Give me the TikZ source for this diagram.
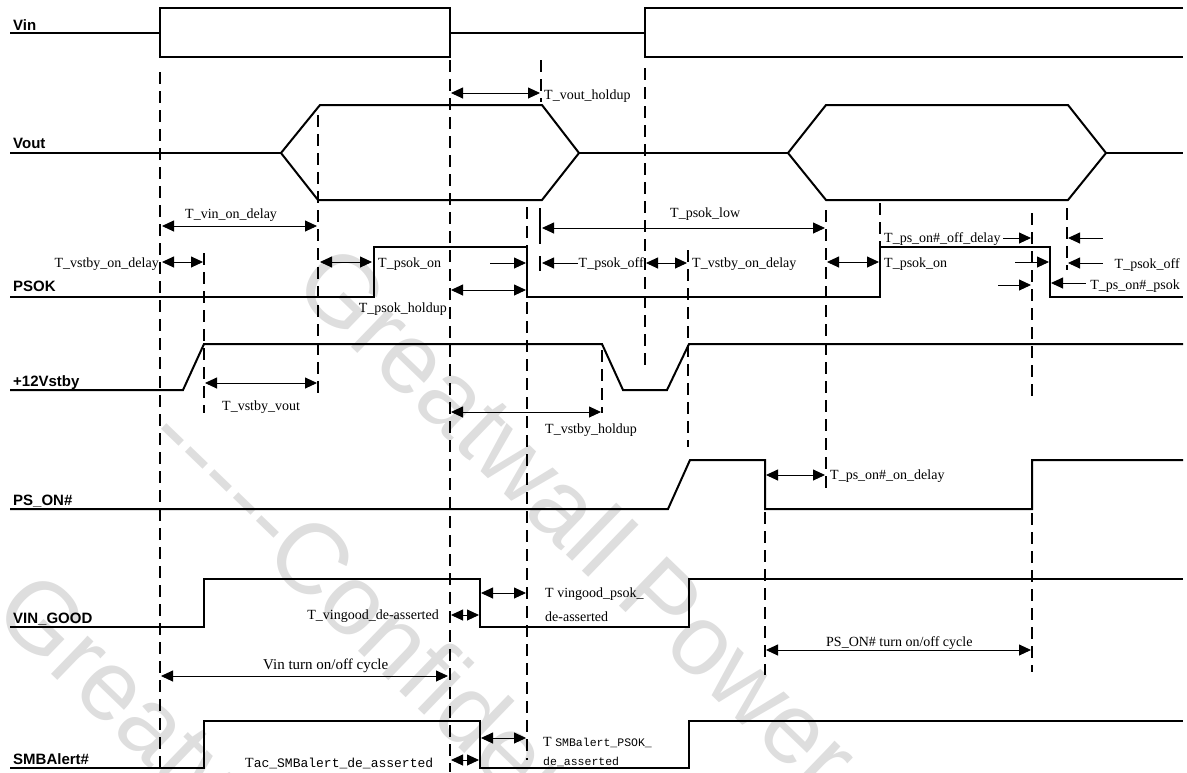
\documentclass[tikz,border=0pt]{standalone}
\usepackage{fontspec}
\setmainfont{Liberation Serif}
\newfontfamily\lblfont{Liberation Sans}
\newfontfamily\wmfont{Liberation Sans}
\newfontfamily\smfont{Liberation Mono}
\usetikzlibrary{arrows.meta}
\begin{document}
\begin{tikzpicture}[x=1pt,y=-1pt,
  sig/.style={line width=2pt, line join=miter},
  vdash/.style={line width=1.8pt, dash pattern=on 12pt off 7pt},
  tip/.tip={Triangle[length=12pt,width=11pt]},
  dim/.style={line width=0.9pt, tip-tip},
  rdim/.style={line width=0.9pt, -tip},
  ldim/.style={line width=0.9pt, tip-},
  sname/.style={font=\lblfont\bfseries\fontsize{15}{16}\selectfont, anchor=base west, inner sep=0pt},
  tl/.style={font=\fontsize{14}{15}\selectfont, inner sep=0pt, anchor=base west},
  tr/.style={tl, anchor=base east},
  wm/.style={text=black!13, font=\wmfont\fontsize{100}{100}\selectfont, rotate=-44, anchor=base west, inner sep=0pt}
]
\useasboundingbox (0,0) rectangle (1187,772);
% watermark
\node[wm] (wm1) at (290,288) {Greatwall Power};
\node[wm] (wm2) at (142,442) {-----Confidential};
\node[wm] (wm3) at (-10,615) {Greatwall Power};

% signal names
\node[sname] (nVin) at (13,30) {Vin};
\node[sname] (nVout) at (13,148) {Vout};
\node[sname] (nPSOK) at (13,291) {PSOK};
\node[sname] (nVsb) at (13,386) {+12Vstby};
\node[sname] (nPSON) at (13,505) {PS\_ON\#};
\node[sname] (nVG) at (13,623) {VIN\_GOOD};
\node[sname] (nSMB) at (13,764) {SMBAlert\#};

% signals
\draw[sig] (10,33) -- (160,33);
\draw[sig] (160,8) -- (450,8) -- (450,57) -- (160,57) -- cycle;
\draw[sig] (450,33) -- (645,33);
\draw[sig] (1183,8) -- (645,8) -- (645,57) -- (1183,57);

\draw[sig] (10,153) -- (281,153);
\draw[sig] (281,153) -- (320,105) -- (542,105) -- (579,153) -- (542,200) -- (318,200) -- cycle;
\draw[sig] (579,153) -- (788,153);
\draw[sig] (788,153) -- (826,105) -- (1068,105) -- (1106,153) -- (1068,200) -- (826,200) -- cycle;
\draw[sig] (1106,153) -- (1183,153);

\draw[sig] (10,297) -- (374,297) -- (374,247) -- (527,247) -- (527,297) -- (880,297) -- (880,247) -- (1050,247) -- (1050,297) -- (1183,297);
\draw[sig] (10,390) -- (183,390) -- (204,344) -- (602,344) -- (623,390) -- (667,390) -- (689,344) -- (1183,344);
\draw[sig] (10,509) -- (668,509) -- (690,460) -- (765,460) -- (765,509) -- (1032,509) -- (1032,460) -- (1183,460);
\draw[sig] (10,627) -- (204,627) -- (204,579) -- (480,579) -- (480,627) -- (689,627) -- (689,579) -- (1183,579);
\draw[sig] (10,768) -- (204,768) -- (204,721) -- (480,721) -- (480,768) -- (689,768) -- (689,721) -- (1183,721);

% dashed guide lines
\draw[vdash] (160,72) -- (160,772);
\draw[vdash] (318,115) -- (318,397);
\draw[vdash] (204,253) -- (204,413);
\draw[vdash] (450,60) -- (450,772);
\draw[vdash] (527,207) -- (527,760);
\draw[vdash] (541,60) -- (541,102);
\draw[line width=1.6pt] (540,208) -- (540,244) (540,256) -- (540,271);
\draw[vdash] (602,350) -- (602,413);
\draw[vdash] (645,68) -- (645,367);
\draw[vdash] (688,250) -- (688,447);
\draw[vdash] (765,512) -- (765,675);
\draw[vdash] (826,210) -- (826,493);
\draw[vdash] (880,203) -- (880,247);
\draw[vdash] (1032,213) -- (1032,397);
\draw[vdash] (1032,513) -- (1032,672);
\draw[vdash] (1067,208) -- (1067,270);

% dimension arrows
\draw[dim] (162,226) -- (317,226);
\draw[dim] (451,93) -- (540,93);
\draw[dim] (542,228) -- (825,228);
\draw[dim] (162,262) -- (203,262);
\draw[dim] (320,262) -- (372,262);
\draw[rdim] (490,263) -- (526,263);
\draw[dim] (451,290) -- (526,290);
\draw[ldim] (542,263) -- (578,263);
\draw[dim] (646,263) -- (687,263);
\draw[dim] (205,383) -- (317,383);
\draw[dim] (451,412) -- (601,412);
\draw[dim] (766,475) -- (825,475);
\draw[dim] (827,262) -- (879,262);
\draw[rdim] (1003,238) -- (1031,238);
\draw[ldim] (1068,238) -- (1103,238);
\draw[rdim] (1015,262) -- (1049,262);
\draw[ldim] (1068,263) -- (1103,263);
\draw[rdim] (998,285) -- (1031,285);
\draw[ldim] (1051,283) -- (1086,283);
\draw[dim] (451,615) -- (479,615);
\draw[dim] (481,593) -- (526,593);
\draw[dim] (161,676) -- (448,676);
\draw[dim] (766,650) -- (1031,650);
\draw[dim] (451,760) -- (479,760);
\draw[dim] (481,738) -- (526,738);

% labels
\node[tl] (l1) at (185,218) {T\_vin\_on\_delay};
\node[tl] (l2) at (544,99) {T\_vout\_holdup};
\node[tl] (l3) at (670,217) {T\_psok\_low};
\node[tr] (l4) at (159,267) {T\_vstby\_on\_delay};
\node[tl] (l5) at (378,267) {T\_psok\_on};
\node[tr] (l6) at (447,312) {T\_psok\_holdup};
\node[tr] (l7) at (644,267) {T\_psok\_off};
\node[tl] (l8) at (692,267) {T\_vstby\_on\_delay};
\node[tl] (l9) at (884,267) {T\_psok\_on};
\node[tl] (l10) at (884,242) {T\_ps\_on\#\_off\_delay};
\node[tr] (l11) at (1180,268) {T\_psok\_off};
\node[tr] (l12) at (1180,289) {T\_ps\_on\#\_psok};
\node[tl] (l13) at (222,410) {T\_vstby\_vout};
\node[tl] (l14) at (545,433) {T\_vstby\_holdup};
\node[tl] (l15) at (830,479) {T\_ps\_on\#\_on\_delay};
\node[tr] (l16) at (439,619) {T\_vingood\_de-asserted};
\node[tl] (l17) at (545,597) {T vingood\_psok\_};
\node[tl] (l18) at (545,621) {de-asserted};
\node[tl, font=\fontsize{15}{16}\selectfont] (l19) at (263,669) {Vin turn on/off cycle};
\node[tl] (l20) at (826,646) {PS\_ON\# turn on/off cycle};
\node[tl] (l21) at (245,767) {T{\smfont\fontsize{13}{14}\selectfont ac\_SMBalert\_de\_asserted}};
\node[tl] (l22) at (543,746) {T {\smfont\fontsize{11.5}{12}\selectfont SMBalert\_PSOK\_}};
\node[tl, font=\smfont\fontsize{11.5}{12}\selectfont] (l23) at (543,765) {de\_asserted};
\end{tikzpicture}
\end{document}
